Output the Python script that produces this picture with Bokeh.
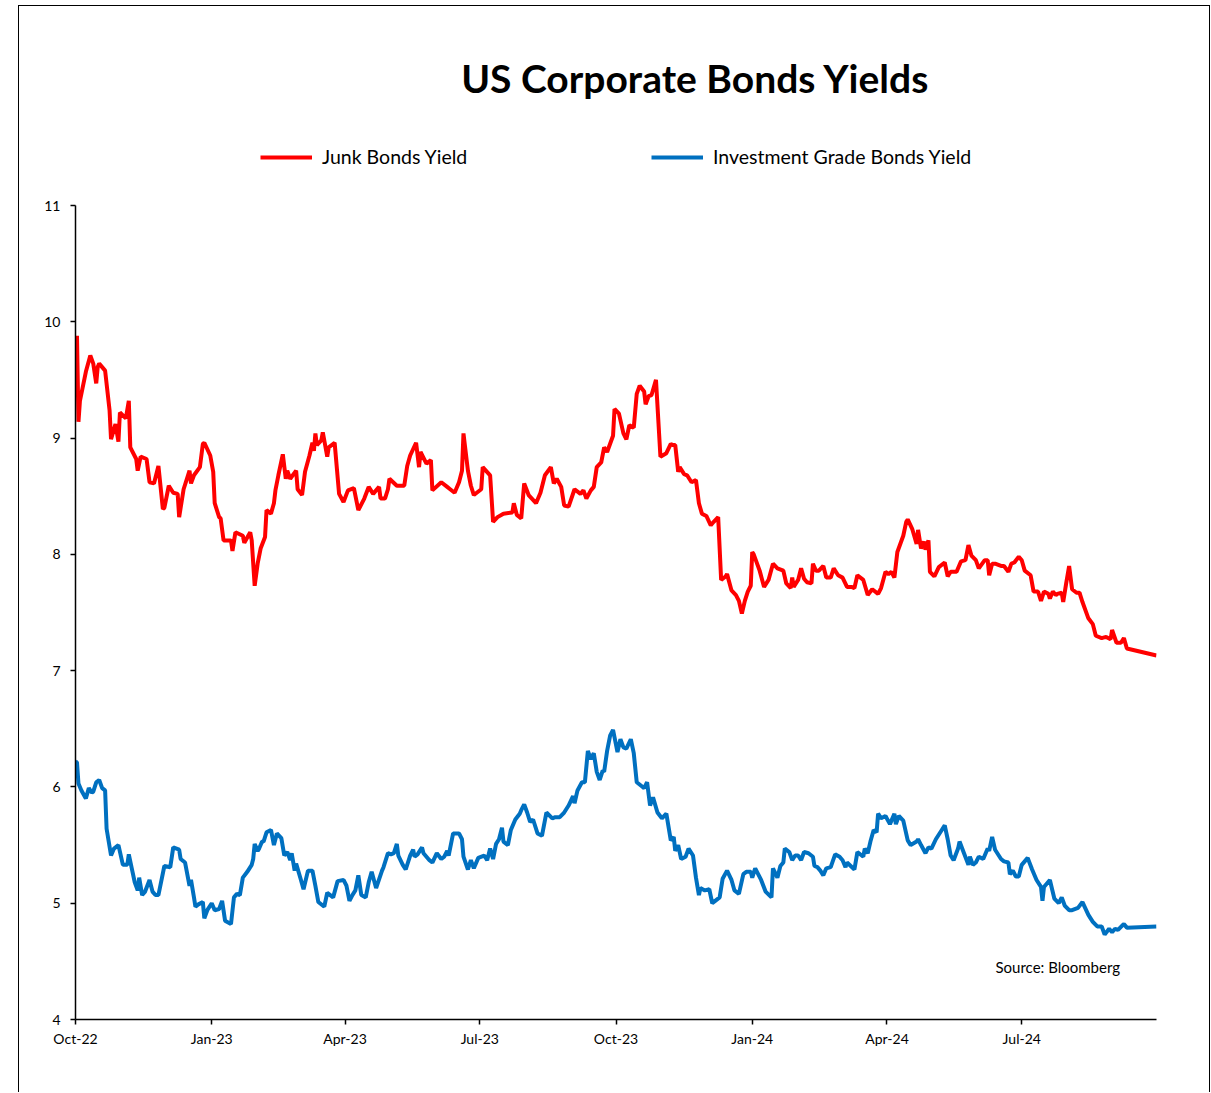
import pandas as pd
from bokeh.plotting import figure
from bokeh.models import (Legend, LegendItem, Label, FixedTicker,
                          DatetimeTickFormatter, Range1d)
from bokeh.embed import file_html
from bokeh.resources import INLINE

FONT = "Lato"

title_text = "US Corporate Bonds Yields"
source_text = "Source: Bloomberg"
junk_name = "Junk Bonds Yield"
ig_name = "Investment Grade Bonds Yield"

junk_dates = [
    "2022-10-01", "2022-10-02", "2022-10-03", "2022-10-04", "2022-10-08", "2022-10-11", "2022-10-13",
    "2022-10-15", "2022-10-16", "2022-10-17", "2022-10-21", "2022-10-24", "2022-10-25", "2022-10-28",
    "2022-10-30", "2022-10-31", "2022-11-04", "2022-11-06", "2022-11-07", "2022-11-11", "2022-11-12",
    "2022-11-14", "2022-11-18", "2022-11-20", "2022-11-23", "2022-11-26", "2022-11-29", "2022-11-30",
    "2022-12-03", "2022-12-06", "2022-12-09", "2022-12-10", "2022-12-13", "2022-12-17", "2022-12-18",
    "2022-12-20", "2022-12-24", "2022-12-26", "2022-12-27", "2022-12-31", "2023-01-02", "2023-01-03",
    "2023-01-06", "2023-01-07", "2023-01-09", "2023-01-14", "2023-01-15", "2023-01-17", "2023-01-22",
    "2023-01-23", "2023-01-27", "2023-01-28", "2023-01-30", "2023-02-01", "2023-02-03", "2023-02-06",
    "2023-02-07", "2023-02-10", "2023-02-12", "2023-02-13", "2023-02-15", "2023-02-18", "2023-02-20",
    "2023-02-21", "2023-02-23", "2023-02-27", "2023-02-28", "2023-03-03", "2023-03-05", "2023-03-08",
    "2023-03-10", "2023-03-11", "2023-03-12", "2023-03-13", "2023-03-16", "2023-03-17", "2023-03-20",
    "2023-03-21", "2023-03-25", "2023-03-28", "2023-03-31", "2023-04-03", "2023-04-07", "2023-04-10",
    "2023-04-14", "2023-04-17", "2023-04-20", "2023-04-24", "2023-04-25", "2023-04-28", "2023-04-30",
    "2023-05-01", "2023-05-06", "2023-05-11", "2023-05-13", "2023-05-15", "2023-05-19", "2023-05-21",
    "2023-05-22", "2023-05-26", "2023-05-29", "2023-05-30", "2023-06-05", "2023-06-09", "2023-06-11",
    "2023-06-14", "2023-06-17", "2023-06-19", "2023-06-20", "2023-06-23", "2023-06-25", "2023-06-27",
    "2023-07-02", "2023-07-03", "2023-07-08", "2023-07-10", "2023-07-13", "2023-07-17", "2023-07-23",
    "2023-07-24", "2023-07-26", "2023-07-29", "2023-07-31", "2023-08-03", "2023-08-08", "2023-08-11",
    "2023-08-14", "2023-08-18", "2023-08-20", "2023-08-22", "2023-08-25", "2023-08-27", "2023-08-30",
    "2023-09-03", "2023-09-07", "2023-09-09", "2023-09-11", "2023-09-14", "2023-09-16", "2023-09-18",
    "2023-09-21", "2023-09-23", "2023-09-25", "2023-09-29", "2023-09-30", "2023-10-03", "2023-10-06",
    "2023-10-08", "2023-10-10", "2023-10-13", "2023-10-15", "2023-10-17", "2023-10-20", "2023-10-21",
    "2023-10-23", "2023-10-25", "2023-10-28", "2023-10-31", "2023-11-04", "2023-11-07", "2023-11-08",
    "2023-11-10", "2023-11-12", "2023-11-13", "2023-11-16", "2023-11-18", "2023-11-21", "2023-11-24",
    "2023-11-26", "2023-11-28", "2023-12-01", "2023-12-04", "2023-12-06", "2023-12-09", "2023-12-11",
    "2023-12-14", "2023-12-15", "2023-12-18", "2023-12-21", "2023-12-23", "2023-12-25", "2023-12-27",
    "2023-12-29", "2023-12-31", "2024-01-01", "2024-01-02", "2024-01-06", "2024-01-09", "2024-01-12",
    "2024-01-15", "2024-01-18", "2024-01-22", "2024-01-24", "2024-01-27", "2024-01-28", "2024-01-29",
    "2024-02-01", "2024-02-03", "2024-02-05", "2024-02-07", "2024-02-10", "2024-02-11", "2024-02-13",
    "2024-02-15", "2024-02-18", "2024-02-20", "2024-02-23", "2024-02-25", "2024-02-28", "2024-03-02",
    "2024-03-05", "2024-03-08", "2024-03-10", "2024-03-12", "2024-03-16", "2024-03-19", "2024-03-22",
    "2024-03-26", "2024-03-28", "2024-03-31", "2024-04-02", "2024-04-04", "2024-04-06", "2024-04-08",
    "2024-04-12", "2024-04-14", "2024-04-15", "2024-04-18", "2024-04-21", "2024-04-22", "2024-04-24",
    "2024-04-26", "2024-04-27", "2024-04-29", "2024-04-30", "2024-05-03", "2024-05-06", "2024-05-10",
    "2024-05-12", "2024-05-14", "2024-05-18", "2024-05-21", "2024-05-24", "2024-05-26", "2024-05-28",
    "2024-05-31", "2024-06-02", "2024-06-06", "2024-06-08", "2024-06-09", "2024-06-11", "2024-06-13",
    "2024-06-17", "2024-06-19", "2024-06-22", "2024-06-24", "2024-06-26", "2024-06-29", "2024-07-01",
    "2024-07-03", "2024-07-07", "2024-07-09", "2024-07-12", "2024-07-14", "2024-07-16", "2024-07-19",
    "2024-07-20", "2024-07-22", "2024-07-24", "2024-07-25", "2024-07-28", "2024-07-29", "2024-07-31",
    "2024-08-02", "2024-08-04", "2024-08-07", "2024-08-09", "2024-08-11", "2024-08-15", "2024-08-18",
    "2024-08-20", "2024-08-24", "2024-08-27", "2024-08-30", "2024-08-31", "2024-09-03", "2024-09-06",
    "2024-09-08", "2024-09-10", "2024-09-30",
]
junk_yield = [
    9.48, 9.88, 9.14, 9.32, 9.57, 9.71, 9.64,
    9.47, 9.61, 9.64, 9.58, 9.24, 8.99, 9.12,
    8.97, 9.22, 9.17, 9.32, 8.92, 8.82, 8.72,
    8.84, 8.82, 8.62, 8.61, 8.76, 8.39, 8.40,
    8.59, 8.53, 8.52, 8.32, 8.56, 8.72, 8.61,
    8.68, 8.75, 8.95, 8.96, 8.85, 8.71, 8.44,
    8.32, 8.31, 8.12, 8.12, 8.03, 8.19, 8.16,
    8.10, 8.19, 8.12, 7.73, 7.92, 8.05, 8.15,
    8.38, 8.35, 8.44, 8.55, 8.68, 8.86, 8.65,
    8.72, 8.65, 8.72, 8.56, 8.51, 8.71, 8.85,
    8.96, 8.89, 9.04, 8.94, 8.98, 9.05, 8.84,
    8.92, 8.96, 8.52, 8.45, 8.55, 8.57, 8.38,
    8.48, 8.58, 8.52, 8.58, 8.48, 8.48, 8.56,
    8.65, 8.59, 8.59, 8.76, 8.85, 8.96, 8.75,
    8.88, 8.78, 8.81, 8.55, 8.62, 8.58, 8.56,
    8.53, 8.62, 8.72, 9.04, 8.72, 8.59, 8.51,
    8.56, 8.75, 8.68, 8.28, 8.32, 8.35, 8.36,
    8.44, 8.34, 8.31, 8.61, 8.51, 8.44, 8.53,
    8.68, 8.75, 8.61, 8.65, 8.58, 8.42, 8.41,
    8.56, 8.52, 8.55, 8.48, 8.55, 8.58, 8.75,
    8.79, 8.92, 8.88, 9.02, 9.25, 9.21, 9.04,
    8.99, 9.11, 9.09, 9.38, 9.45, 9.40, 9.29,
    9.36, 9.37, 9.50, 8.84, 8.87, 8.95, 8.94,
    8.94, 8.71, 8.75, 8.69, 8.68, 8.62, 8.64,
    8.44, 8.35, 8.33, 8.25, 8.28, 8.32, 7.78,
    7.81, 7.83, 7.69, 7.65, 7.60, 7.49, 7.60,
    7.68, 7.73, 8.02, 8.00, 7.86, 7.72, 7.78,
    7.92, 7.88, 7.86, 7.75, 7.71, 7.80, 7.72,
    7.78, 7.88, 7.79, 7.76, 7.75, 7.92, 7.86,
    7.86, 7.90, 7.80, 7.80, 7.88, 7.82, 7.80,
    7.72, 7.72, 7.71, 7.82, 7.78, 7.65, 7.70,
    7.66, 7.71, 7.85, 7.83, 7.85, 7.80, 8.02,
    8.16, 8.28, 8.30, 8.22, 8.09, 8.21, 8.05,
    8.11, 8.04, 8.12, 7.85, 7.81, 7.89, 7.93,
    7.81, 7.85, 7.85, 7.94, 7.95, 8.08, 7.99,
    7.95, 7.88, 7.95, 7.95, 7.82, 7.92, 7.92,
    7.90, 7.90, 7.85, 7.92, 7.93, 7.98, 7.95,
    7.86, 7.82, 7.68, 7.68, 7.60, 7.68, 7.66,
    7.62, 7.68, 7.65, 7.66, 7.67, 7.59, 7.75,
    7.90, 7.70, 7.67, 7.67, 7.59, 7.45, 7.40,
    7.30, 7.28, 7.29, 7.27, 7.35, 7.24, 7.24,
    7.28, 7.19, 7.13,
]

ig_dates = [
    "2022-10-01", "2022-10-02", "2022-10-03", "2022-10-05", "2022-10-08", "2022-10-10", "2022-10-12",
    "2022-10-13", "2022-10-15", "2022-10-17", "2022-10-19", "2022-10-21", "2022-10-22", "2022-10-25",
    "2022-10-27", "2022-10-30", "2022-11-02", "2022-11-05", "2022-11-06", "2022-11-08", "2022-11-10",
    "2022-11-12", "2022-11-13", "2022-11-15", "2022-11-17", "2022-11-20", "2022-11-22", "2022-11-24",
    "2022-11-26", "2022-11-30", "2022-12-04", "2022-12-06", "2022-12-10", "2022-12-11", "2022-12-14",
    "2022-12-17", "2022-12-18", "2022-12-20", "2022-12-21", "2022-12-23", "2022-12-26", "2022-12-27",
    "2022-12-29", "2023-01-01", "2023-01-03", "2023-01-06", "2023-01-08", "2023-01-10", "2023-01-14",
    "2023-01-16", "2023-01-18", "2023-01-20", "2023-01-22", "2023-01-25", "2023-01-28", "2023-01-29",
    "2023-01-30", "2023-02-01", "2023-02-02", "2023-02-04", "2023-02-05", "2023-02-07", "2023-02-10",
    "2023-02-12", "2023-02-14", "2023-02-17", "2023-02-19", "2023-02-21", "2023-02-23", "2023-02-24",
    "2023-02-26", "2023-02-27", "2023-03-02", "2023-03-04", "2023-03-07", "2023-03-10", "2023-03-12",
    "2023-03-14", "2023-03-18", "2023-03-20", "2023-03-22", "2023-03-24", "2023-03-27", "2023-03-31",
    "2023-04-02", "2023-04-04", "2023-04-06", "2023-04-08", "2023-04-10", "2023-04-12", "2023-04-15",
    "2023-04-17", "2023-04-19", "2023-04-22", "2023-04-26", "2023-04-27", "2023-04-30", "2023-05-02",
    "2023-05-04", "2023-05-06", "2023-05-07", "2023-05-10", "2023-05-12", "2023-05-15", "2023-05-17",
    "2023-05-18", "2023-05-20", "2023-05-23", "2023-05-24", "2023-05-28", "2023-05-30", "2023-06-02",
    "2023-06-05", "2023-06-07", "2023-06-09", "2023-06-10", "2023-06-13", "2023-06-17", "2023-06-19",
    "2023-06-20", "2023-06-23", "2023-06-25", "2023-06-27", "2023-06-30", "2023-07-04", "2023-07-06",
    "2023-07-08", "2023-07-10", "2023-07-12", "2023-07-14", "2023-07-16", "2023-07-17", "2023-07-20",
    "2023-07-22", "2023-07-25", "2023-07-28", "2023-07-29", "2023-07-31", "2023-08-02", "2023-08-04",
    "2023-08-06", "2023-08-09", "2023-08-12", "2023-08-15", "2023-08-19", "2023-08-21", "2023-08-24",
    "2023-08-27", "2023-08-30", "2023-09-02", "2023-09-03", "2023-09-05", "2023-09-08", "2023-09-10",
    "2023-09-12", "2023-09-14", "2023-09-16", "2023-09-18", "2023-09-20", "2023-09-22", "2023-09-23",
    "2023-09-25", "2023-09-27", "2023-09-29", "2023-10-02", "2023-10-04", "2023-10-06", "2023-10-08",
    "2023-10-11", "2023-10-13", "2023-10-15", "2023-10-18", "2023-10-20", "2023-10-22", "2023-10-24",
    "2023-10-26", "2023-10-29", "2023-11-01", "2023-11-04", "2023-11-07", "2023-11-09", "2023-11-10",
    "2023-11-12", "2023-11-14", "2023-11-17", "2023-11-19", "2023-11-22", "2023-11-24", "2023-11-26",
    "2023-11-27", "2023-11-30", "2023-12-03", "2023-12-05", "2023-12-07", "2023-12-10", "2023-12-12",
    "2023-12-15", "2023-12-18", "2023-12-20", "2023-12-23", "2023-12-26", "2023-12-28", "2023-12-31",
    "2024-01-01", "2024-01-03", "2024-01-05", "2024-01-07", "2024-01-10", "2024-01-14", "2024-01-15",
    "2024-01-18", "2024-01-20", "2024-01-22", "2024-01-23", "2024-01-26", "2024-01-28", "2024-01-30",
    "2024-02-01", "2024-02-03", "2024-02-05", "2024-02-08", "2024-02-11", "2024-02-12", "2024-02-14",
    "2024-02-16", "2024-02-18", "2024-02-20", "2024-02-23", "2024-02-26", "2024-02-29", "2024-03-02",
    "2024-03-04", "2024-03-05", "2024-03-10", "2024-03-12", "2024-03-16", "2024-03-17", "2024-03-19",
    "2024-03-21", "2024-03-23", "2024-03-25", "2024-03-26", "2024-03-28", "2024-03-31", "2024-04-03",
    "2024-04-06", "2024-04-07", "2024-04-09", "2024-04-12", "2024-04-15", "2024-04-17", "2024-04-21",
    "2024-04-22", "2024-04-24", "2024-04-27", "2024-04-29", "2024-05-01", "2024-05-04", "2024-05-08",
    "2024-05-10", "2024-05-12", "2024-05-14", "2024-05-16", "2024-05-19", "2024-05-20", "2024-05-23",
    "2024-05-26", "2024-05-27", "2024-05-29", "2024-05-31", "2024-06-02", "2024-06-05", "2024-06-08",
    "2024-06-09", "2024-06-11", "2024-06-13", "2024-06-17", "2024-06-19", "2024-06-22", "2024-06-23",
    "2024-06-25", "2024-06-27", "2024-06-29", "2024-07-01", "2024-07-05", "2024-07-08", "2024-07-11",
    "2024-07-14", "2024-07-15", "2024-07-16", "2024-07-20", "2024-07-23", "2024-07-26", "2024-07-28",
    "2024-07-30", "2024-08-02", "2024-08-04", "2024-08-08", "2024-08-11", "2024-08-15", "2024-08-18",
    "2024-08-21", "2024-08-24", "2024-08-26", "2024-08-29", "2024-08-31", "2024-09-02", "2024-09-04",
    "2024-09-07", "2024-09-08", "2024-09-10", "2024-09-30",
]
ig_yield = [
    6.22, 6.21, 6.03, 5.97, 5.90, 5.99, 5.95,
    5.96, 6.04, 6.06, 5.99, 5.97, 5.64, 5.41,
    5.47, 5.50, 5.33, 5.33, 5.42, 5.30, 5.18,
    5.11, 5.22, 5.07, 5.10, 5.20, 5.10, 5.07,
    5.07, 5.32, 5.31, 5.48, 5.46, 5.38, 5.35,
    5.15, 5.20, 5.05, 4.97, 4.99, 5.01, 4.87,
    4.94, 5.00, 4.94, 4.95, 5.02, 4.85, 4.82,
    5.05, 5.08, 5.07, 5.22, 5.27, 5.33, 5.38,
    5.51, 5.45, 5.47, 5.53, 5.53, 5.61, 5.63,
    5.50, 5.60, 5.56, 5.41, 5.44, 5.37, 5.43,
    5.28, 5.34, 5.21, 5.12, 5.28, 5.28, 5.15,
    5.01, 4.97, 5.09, 5.07, 5.05, 5.19, 5.20,
    5.15, 5.02, 5.07, 5.11, 5.24, 5.07, 5.05,
    5.18, 5.27, 5.13, 5.28, 5.31, 5.43, 5.42,
    5.43, 5.51, 5.41, 5.33, 5.29, 5.41, 5.46,
    5.40, 5.42, 5.48, 5.43, 5.37, 5.35, 5.43,
    5.38, 5.40, 5.45, 5.41, 5.60, 5.60, 5.55,
    5.40, 5.29, 5.37, 5.30, 5.39, 5.41, 5.37,
    5.47, 5.38, 5.51, 5.55, 5.65, 5.53, 5.50,
    5.63, 5.72, 5.77, 5.80, 5.85, 5.78, 5.70,
    5.72, 5.60, 5.58, 5.78, 5.73, 5.74, 5.74,
    5.78, 5.84, 5.92, 5.86, 5.97, 6.04, 6.04,
    6.31, 6.24, 6.29, 6.13, 6.06, 6.14, 6.13,
    6.31, 6.44, 6.49, 6.30, 6.41, 6.34, 6.33,
    6.41, 6.29, 6.04, 6.01, 5.99, 6.04, 5.84,
    5.91, 5.78, 5.73, 5.77, 5.54, 5.57, 5.45,
    5.50, 5.38, 5.40, 5.47, 5.41, 5.22, 5.07,
    5.13, 5.11, 5.12, 5.00, 5.02, 5.05, 5.21,
    5.28, 5.20, 5.11, 5.08, 5.25, 5.27, 5.27,
    5.22, 5.30, 5.25, 5.20, 5.10, 5.05, 5.30,
    5.22, 5.32, 5.35, 5.47, 5.44, 5.37, 5.41,
    5.41, 5.37, 5.44, 5.43, 5.40, 5.32, 5.31,
    5.28, 5.24, 5.30, 5.31, 5.42, 5.40, 5.37,
    5.31, 5.35, 5.29, 5.44, 5.40, 5.47, 5.43,
    5.54, 5.63, 5.61, 5.77, 5.73, 5.75, 5.68,
    5.77, 5.68, 5.75, 5.71, 5.54, 5.50, 5.53,
    5.55, 5.50, 5.43, 5.48, 5.47, 5.55, 5.63,
    5.67, 5.55, 5.41, 5.37, 5.47, 5.53, 5.43,
    5.33, 5.40, 5.33, 5.35, 5.40, 5.38, 5.47,
    5.45, 5.57, 5.46, 5.38, 5.36, 5.35, 5.25,
    5.28, 5.23, 5.23, 5.33, 5.39, 5.29, 5.20,
    5.14, 5.02, 5.14, 5.20, 5.04, 5.00, 5.05,
    4.98, 4.94, 4.94, 4.96, 5.01, 4.90, 4.84,
    4.80, 4.80, 4.73, 4.78, 4.75, 4.78, 4.77,
    4.81, 4.82, 4.79, 4.80,
]

x_tick_dates = ["2022-10-01", "2023-01-01", "2023-04-01", "2023-07-01",
                "2023-10-01", "2024-01-01", "2024-04-01", "2024-07-01"]
y_ticks = [4, 5, 6, 7, 8, 9, 10, 11]
x_start, x_end = "2022-10-01", "2024-09-30"
y_start, y_end = 4, 11

# the frame reaches up to the top of the figure so that the title and
# legends (drawn inside the frame) are not clipped; the y axis is bounded
px_per_unit = 814 / (y_end - y_start)
frame_px = 1013
y_view_end = y_start + frame_px / px_per_unit

jd = pd.to_datetime(junk_dates)
idt = pd.to_datetime(ig_dates)
tick_ms = [int(pd.Timestamp(d).value // 10**6) for d in x_tick_dates]

p = figure(width=1192, height=1087, x_axis_type="datetime",
           output_backend="svg", toolbar_location=None,
           x_range=Range1d(pd.Timestamp(x_start), pd.Timestamp(x_end)),
           y_range=Range1d(y_start, y_view_end),
           min_border_left=56, min_border_right=55,
           min_border_top=0, min_border_bottom=74,
           margin=(5, 0, 0, 18))
p.styles = {"border-top": "1px solid black", "border-left": "1px solid black",
            "border-right": "1px solid black"}
p.background_fill_color = "white"
p.border_fill_color = "white"
p.outline_line_color = None
p.xgrid.visible = False
p.ygrid.visible = False

r_junk = p.line(jd, junk_yield, line_color="#FF0000", line_width=4)
r_ig = p.line(idt, ig_yield, line_color="#0070C0", line_width=4)

for ax in (p.xaxis[0], p.yaxis[0]):
    ax.axis_line_color = "black"
    ax.axis_line_width = 1.5
    ax.major_tick_line_color = "black"
    ax.major_tick_line_width = 1.5
    ax.major_tick_out = 5
    ax.major_tick_in = 0
    ax.minor_tick_line_color = None
    ax.major_label_text_font = FONT
    ax.major_label_text_font_size = "14px"
    ax.major_label_text_color = "black"

p.xaxis.major_label_standoff = 5
p.yaxis.major_label_standoff = 10
p.yaxis.bounds = (y_start, y_end)

p.xaxis.ticker = FixedTicker(ticks=tick_ms)
fmt = "%b-%y"
p.xaxis.formatter = DatetimeTickFormatter(days=fmt, months=fmt, years=fmt,
                                          hours=fmt, minutes=fmt, seconds=fmt)
p.yaxis.ticker = FixedTicker(ticks=y_ticks)

title = Label(x=620, y=942, x_units="screen", y_units="screen", text=title_text,
              text_font=FONT, text_font_style="bold", text_font_size="39px",
              text_align="center", text_baseline="alphabetic", text_color="black")
p.add_layout(title)

src = Label(x=920, y=53, x_units="screen", y_units="screen", text=source_text,
            text_font=FONT, text_font_size="15px", text_align="left",
            text_baseline="alphabetic", text_color="black")
p.add_layout(src)


def make_legend(label, rend, loc):
    lg = Legend(items=[LegendItem(label=label, renderers=[rend])], location=loc,
                orientation="horizontal", border_line_color=None,
                background_fill_alpha=0, padding=0, margin=0,
                glyph_width=52, glyph_height=20, label_standoff=10,
                label_text_font=FONT, label_text_font_size="19.5px",
                label_text_color="black")
    return lg


p.add_layout(make_legend(junk_name, r_junk, (185, 851)))
p.add_layout(make_legend(ig_name, r_ig, (576, 851)))

open("out.html", "w").write(file_html(p, INLINE))
